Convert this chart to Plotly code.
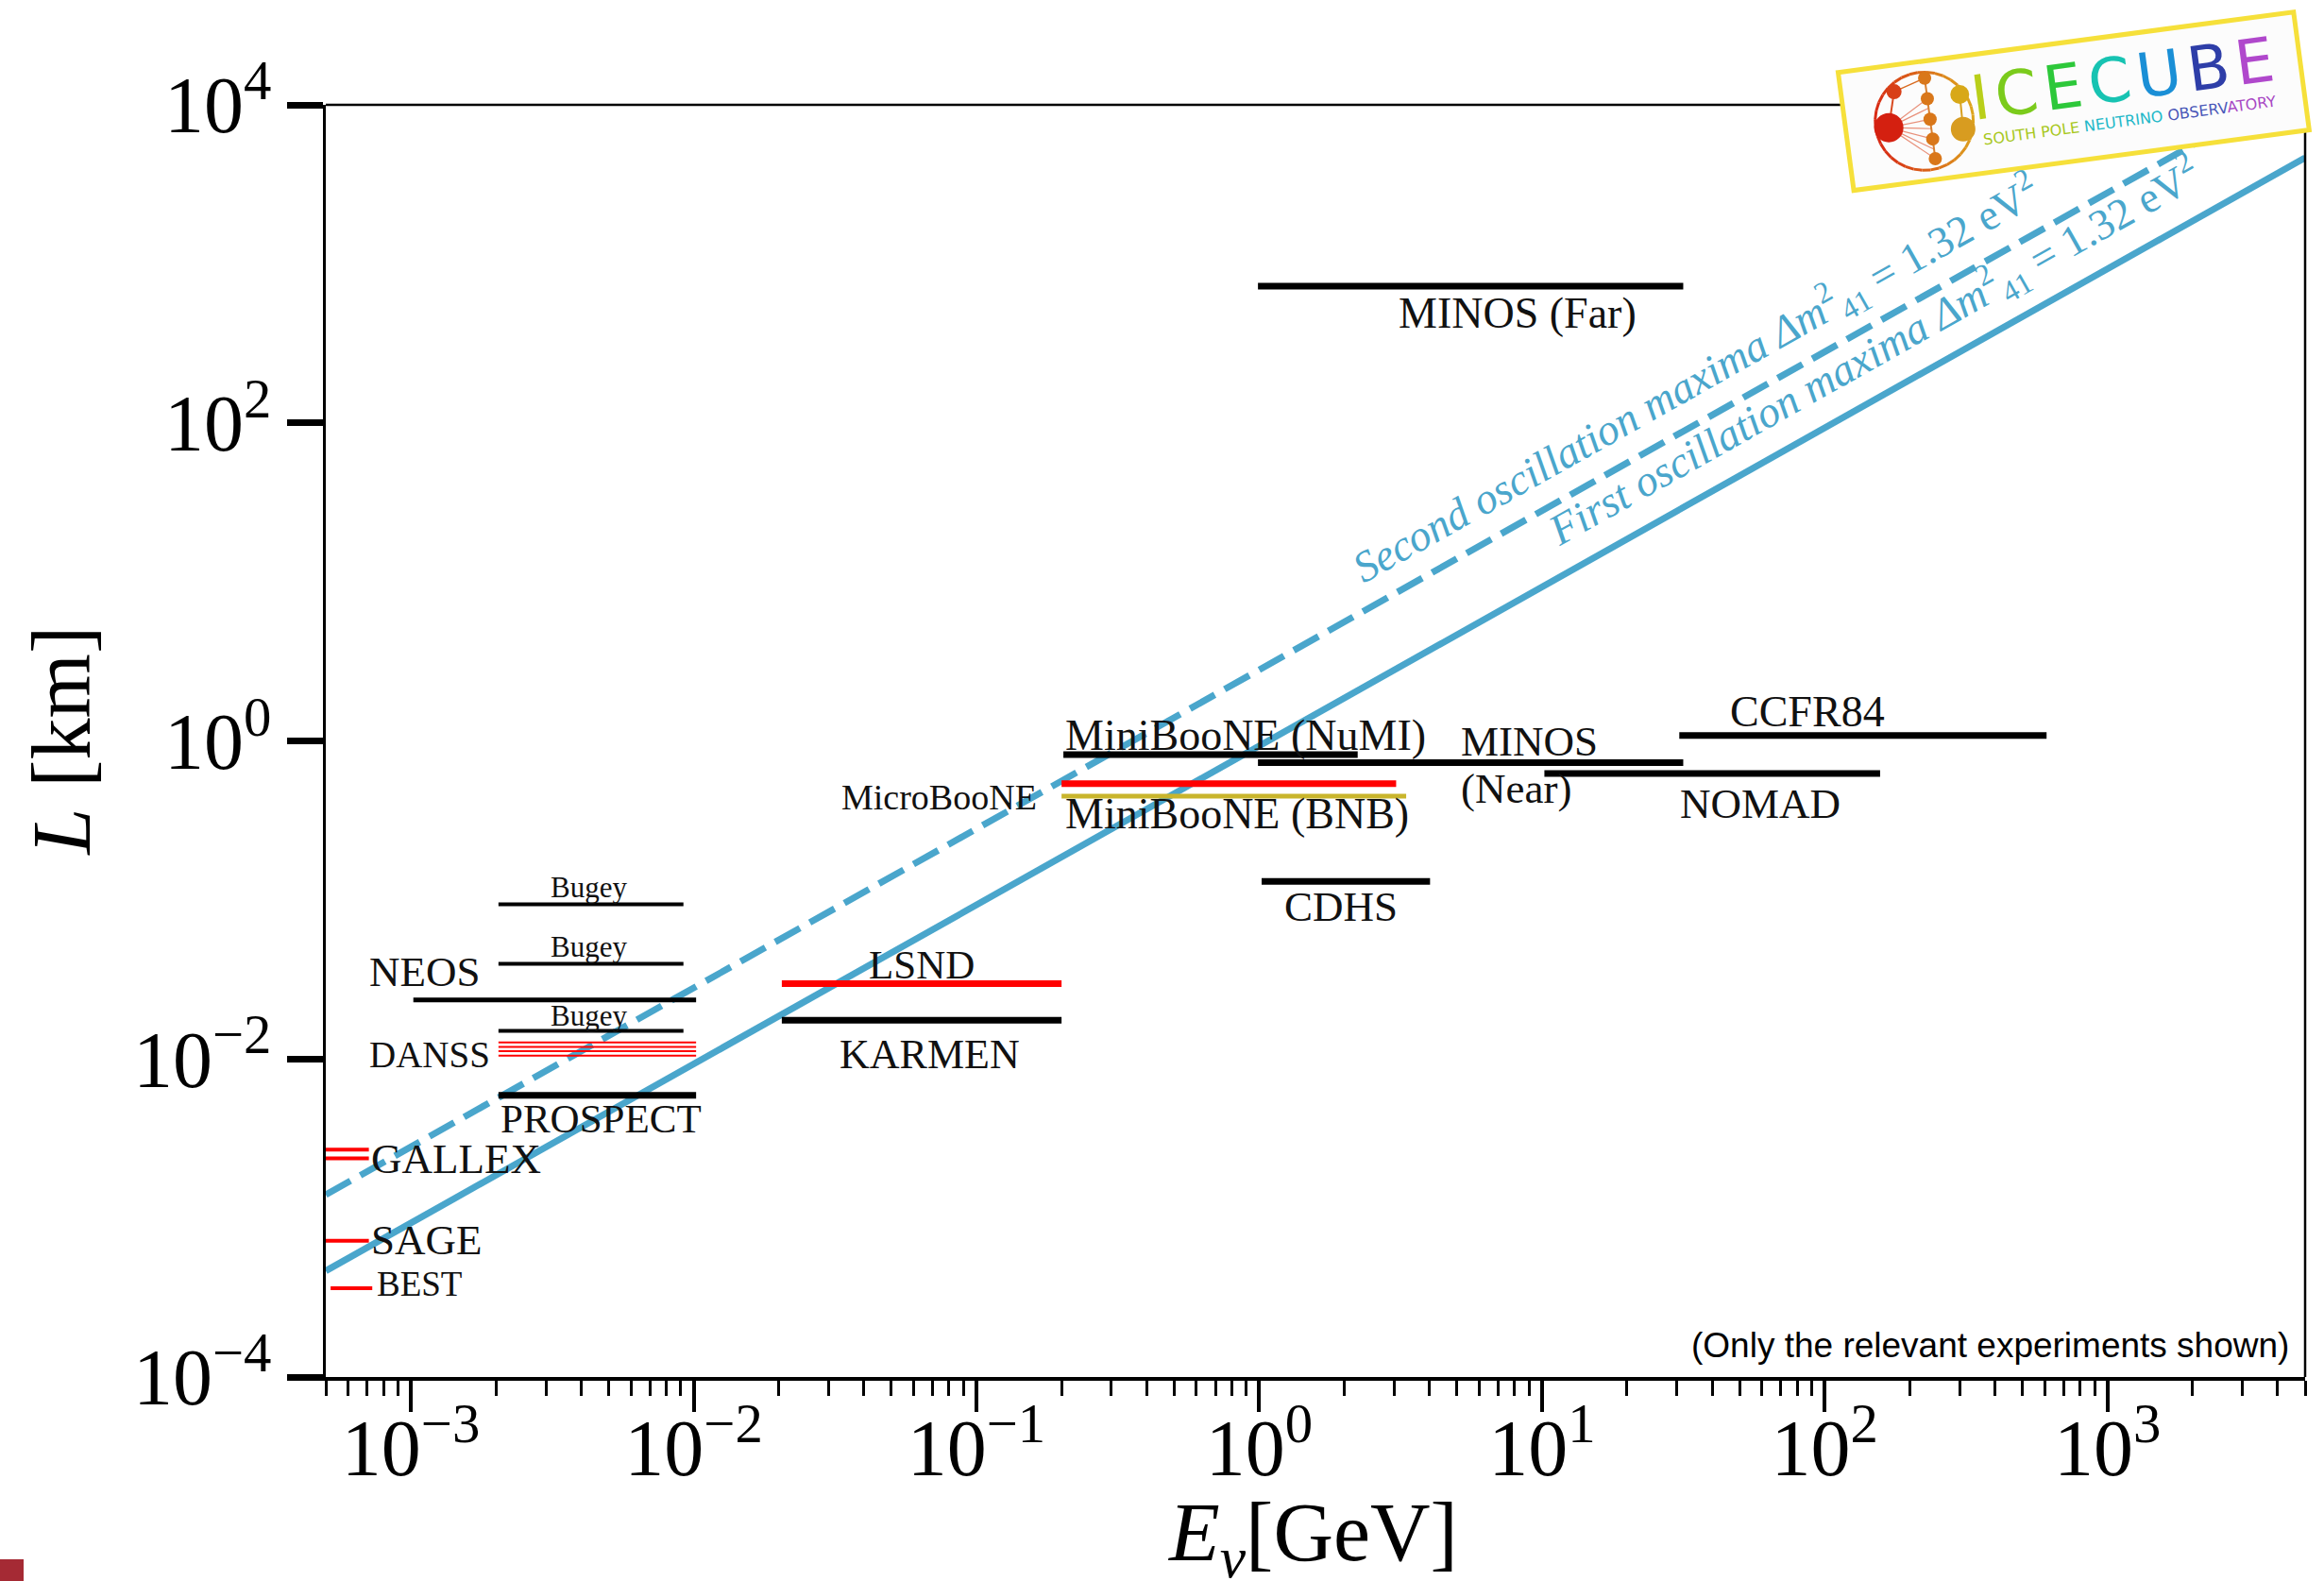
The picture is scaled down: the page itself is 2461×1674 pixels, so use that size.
import math
import plotly.graph_objects as go

# ---------------- data ----------------
exp_names = ["MINOS (Far)", "MiniBooNE (NuMI)", "MINOS (Near)", "NOMAD", "CCFR84",
             "MicroBooNE", "MiniBooNE (BNB)", "CDHS", "LSND", "KARMEN",
             "Bugey (95 m)", "Bugey (40 m)", "NEOS", "Bugey (15 m)",
             "DANSS 1", "DANSS 2", "DANSS 3", "DANSS 4", "PROSPECT",
             "GALLEX 1", "GALLEX 2", "SAGE", "BEST"]
e_min_gev = [0.99, 0.203, 0.99, 10.2, 30.6,
             0.2, 0.2, 1.02, 0.0205, 0.0205,
             2.04e-3, 2.04e-3, 1.02e-3, 2.04e-3,
             2.04e-3, 2.04e-3, 2.04e-3, 2.04e-3, 2.04e-3,
             5e-4, 5e-4, 5e-4, 5.2e-4]
e_max_gev = [31.6, 2.23, 31.6, 157, 609,
             3.05, 3.31, 4.02, 0.2, 0.2,
             9.2e-3, 9.2e-3, 1.02e-2, 9.2e-3,
             1.02e-2, 1.02e-2, 1.02e-2, 1.02e-2, 1.02e-2,
             7.1e-4, 7.1e-4, 7.1e-4, 7.3e-4]
baseline_km = [725, 0.819, 0.731, 0.624, 1.083,
               0.539, 0.449, 0.131, 0.0298, 0.0175,
               0.094, 0.0397, 0.0235, 0.015,
               0.0127, 0.0119, 0.0112, 0.0105, 0.0059,
               0.00269, 0.00237, 0.000718, 0.000362]

osc_energy = [5e-4, 5e3]
first_max_L = [4.65e-4, 4.65e3]
second_max_L = [1.4e-3, 1.4e4]

x_tick_vals = [1e-3, 1e-2, 1e-1, 1e0, 1e1, 1e2, 1e3]
x_tick_text = ["10<sup>−3</sup>", "10<sup>−2</sup>", "10<sup>−1</sup>", "10<sup>0</sup>",
               "10<sup>1</sup>", "10<sup>2</sup>", "10<sup>3</sup>"]
y_tick_vals = [1e-4, 1e-2, 1e0, 1e2, 1e4]
y_tick_text = ["10<sup>−4</sup>", "10<sup>−2</sup>", "10<sup>0</sup>", "10<sup>2</sup>", "10<sup>4</sup>"]

# ---------------- styles ----------------
BLACK, RED, GOLD, BLUE = "black", "#FF0000", "#C9B52C", "#4AA6CC"
style = {
    "MINOS (Far)": (BLACK, 7), "MiniBooNE (NuMI)": (BLACK, 7), "MINOS (Near)": (BLACK, 7),
    "NOMAD": (BLACK, 7), "CCFR84": (BLACK, 7), "MicroBooNE": (RED, 7),
    "MiniBooNE (BNB)": (GOLD, 5), "CDHS": (BLACK, 7), "LSND": (RED, 7), "KARMEN": (BLACK, 7),
    "Bugey (95 m)": (BLACK, 4), "Bugey (40 m)": (BLACK, 4), "NEOS": (BLACK, 5),
    "Bugey (15 m)": (BLACK, 4), "DANSS 1": (RED, 2), "DANSS 2": (RED, 2), "DANSS 3": (RED, 2),
    "DANSS 4": (RED, 2), "PROSPECT": (BLACK, 7), "GALLEX 1": (RED, 4), "GALLEX 2": (RED, 4),
    "SAGE": (RED, 4), "BEST": (RED, 4),
}

fig = go.Figure()

fig.add_trace(go.Scatter(x=osc_energy, y=second_max_L, mode="lines",
                         line=dict(color=BLUE, width=7, dash="30px,12px"), hoverinfo="skip"))
fig.add_trace(go.Scatter(x=osc_energy, y=first_max_L, mode="lines",
                         line=dict(color=BLUE, width=7), hoverinfo="skip"))

for name, e0, e1, L in zip(exp_names, e_min_gev, e_max_gev, baseline_km):
    col, w = style[name]
    fig.add_trace(go.Scatter(x=[e0, e1], y=[L, L], mode="lines", name=name,
                             line=dict(color=col, width=w)))

SERIF = "Liberation Serif"
labels = [
    ("MINOS (Far)", 0.912, 2.692, "center", 46),
    ("MiniBooNE (NuMI)", -0.692, 0.037, "left", 46),
    ("MINOS", 0.708, -0.002, "left", 45),
    ("(Near)", 0.708, -0.298, "left", 45),
    ("MicroBooNE", -0.781, -0.354, "right", 38),
    ("MiniBooNE (BNB)", -0.692, -0.457, "left", 46),
    ("CCFR84", 1.940, 0.186, "center", 46),
    ("NOMAD", 1.772, -0.397, "center", 45),
    ("CDHS", 0.288, -1.041, "center", 45),
    ("LSND", -1.1935, -1.408, "center", 43),
    ("KARMEN", -1.164, -1.972, "center", 44),
    ("Bugey", -2.372, -0.923, "center", 31),
    ("Bugey", -2.372, -1.296, "center", 31),
    ("Bugey", -2.372, -1.731, "center", 31),
    ("NEOS", -2.950, -1.455, "center", 45),
    ("DANSS", -2.934, -1.972, "center", 39),
    ("PROSPECT", -2.328, -2.378, "center", 43),
    ("GALLEX", -3.146, -2.626, "left", 45),
    ("SAGE", -3.146, -3.140, "left", 45),
    ("BEST", -3.127, -3.417, "left", 37),
]
annotations = []
for txt, lx, ly, xa, fs in labels:
    annotations.append(dict(x=lx, y=ly, xref="x", yref="y", text=txt, showarrow=False,
                            xanchor=xa, yanchor="middle",
                            font=dict(family=SERIF, size=fs, color="#111111")))

annotations.append(dict(x=1.545, y=2.275, xref="x", yref="y", showarrow=False,
                        text="<i>Second oscillation maxima Δm</i><sup>2</sup><sub>41</sub> = 1.32 eV<sup>2</sup>",
                        textangle=-29.4, font=dict(family=SERIF, size=46, color=BLUE)))
annotations.append(dict(x=2.175, y=2.444, xref="x", yref="y", showarrow=False,
                        text="<i>First oscillation maxima Δm</i><sup>2</sup><sub>41</sub> = 1.32 eV<sup>2</sup>",
                        textangle=-29.4, font=dict(family=SERIF, size=46, color=BLUE)))

annotations.append(dict(x=0.9928, y=0.0252, xref="paper", yref="paper", showarrow=False,
                        xanchor="right", yanchor="middle",
                        text="(Only the relevant experiments shown)",
                        font=dict(family="Liberation Sans", size=37, color="black")))

# axis titles
annotations.append(dict(x=-0.1335, y=0.5, xref="paper", yref="paper", showarrow=False,
                        text="<i>L</i> [km]", textangle=-90, xanchor="center", yanchor="middle",
                        font=dict(family=SERIF, size=88, color="black")))
annotations.append(dict(x=0.4985, y=-0.1265, xref="paper", yref="paper", showarrow=False,
                        text="<i>E</i><sub><i>ν</i></sub>[GeV]", xanchor="center", yanchor="middle",
                        font=dict(family=SERIF, size=88, color="black")))

# ---------------- decoration (logo etc.) in pixel space ----------------
PL, PT, PW, PH = 345, 111, 2096, 1347


def P(x, y):
    return (x - PL) / PW, (PT + PH - y) / PH


ang = math.radians(7.56)
UX, UY = math.cos(ang), -math.sin(ang)
VX, VY = math.sin(ang), math.cos(ang)
OX, OY = 1946.5, 76.7


def L2P(u, v):
    return OX + u * UX + v * VX, OY + u * UY + v * VY


def path_from(pts, close=True):
    s = ""
    for i, (x, y) in enumerate(pts):
        px, py = P(x, y)
        s += ("M" if i == 0 else "L") + f"{px:.5f},{py:.5f} "
    return s + ("Z" if close else "")


shapes = []
# top / right frame
shapes.append(dict(type="line", xref="paper", yref="paper", x0=0, x1=1, y0=1, y1=1,
                   line=dict(color="black", width=2.5), layer="above"))
shapes.append(dict(type="line", xref="paper", yref="paper", x0=1, x1=1, y0=0, y1=1,
                   line=dict(color="black", width=2.5), layer="above"))

W, H = 486.5, 126
box = [L2P(0, 0), L2P(W, 0), L2P(W, H), L2P(0, H)]
shapes.append(dict(type="path", xref="paper", yref="paper", path=path_from(box),
                   fillcolor="#FCFCFC", line=dict(color="#F6E03A", width=5), layer="above"))


def circle(u, v, r, fill, line=None, lw=0):
    cx, cy = L2P(u, v)
    x0, y0 = P(cx - r, cy + r)
    x1, y1 = P(cx + r, cy - r)
    return dict(type="circle", xref="paper", yref="paper", x0=x0, x1=x1, y0=y0, y1=y1,
                fillcolor=fill, line=dict(color=line or fill, width=lw), layer="above")


def seg(u0, v0, u1, v1, col, w):
    return dict(type="path", xref="paper", yref="paper",
                path=path_from([L2P(u0, v0), L2P(u1, v1)], close=False),
                line=dict(color=col, width=w), layer="above")


cu, cv, cr = 83.6, 63.2, 52
nseg = 36
for i in range(nseg):
    a0 = 2 * math.pi * i / nseg
    a1 = 2 * math.pi * (i + 1) / nseg
    t = (math.cos((a0 + a1) / 2) + 1) / 2  # 0 left, 1 right
    r_ = int(216 + (222 - 216) * t)
    g_ = int(40 + (165 - 40) * t)
    b_ = int(20 + (30 - 20) * t)
    pts = [L2P(cu + cr * math.cos(a0), cv + cr * math.sin(a0)),
           L2P(cu + cr * math.cos(a1), cv + cr * math.sin(a1))]
    shapes.append(dict(type="path", xref="paper", yref="paper", path=path_from(pts, close=False),
                       line=dict(color=f"rgb({r_},{g_},{b_})", width=3), layer="above"))

string_v = [18, 40, 62, 83, 104]
for v in [40, 50, 62, 72, 83, 94, 104]:
    shapes.append(seg(45.5, 65, 90, v, "#E8907A", 1.2))
shapes.append(seg(90, 14, 90, 110, "#D98030", 2))
shapes.append(seg(45.5, 65, 56, 28, "#D84A20", 2))
shapes.append(seg(56, 28, 90, 18, "#D86A20", 1.5))
shapes.append(seg(124.6, 40, 123.3, 77, "#D8A020", 2))
shapes.append(circle(45.5, 65, 15.5, "#D42010"))
shapes.append(circle(56, 28, 8, "#D84018"))
for v in string_v:
    shapes.append(circle(90, v, 7, "#D9771A"))
shapes.append(circle(124.6, 40, 10, "#D8A818"))
shapes.append(circle(123.3, 77, 13, "#D89C20"))

ice_x, ice_y = L2P(298, 46)
ix, iy = P(ice_x, ice_y)
letters = [("I", "#B9CF1A"), ("C", "#7BCB1C"), ("E", "#2DC83A"), ("C", "#17C3B2"),
           ("U", "#1A8FD6"), ("B", "#2E3EA8"), ("E", "#B048CC")]
ice_text = "\u200a".join(f'<span style="color:{c}">{ch}</span>' for ch, c in letters)
annotations.append(dict(x=ix, y=iy, xref="paper", yref="paper", showarrow=False, text=ice_text,
                        textangle=-7.56, xanchor="center", yanchor="middle",
                        font=dict(family="DejaVu Sans", size=65)))
sp_x, sp_y = L2P(300, 91)
sx, sy = P(sp_x, sp_y)
sub_text = ('<span style="color:#A8C81E">SOUTH POLE </span>'
            '<span style="color:#22B8C8">NEUTRINO </span>'
            '<span style="color:#4A58B8">OBSERV</span><span style="color:#A848C4">ATORY</span>')
annotations.append(dict(x=sx, y=sy, xref="paper", yref="paper", showarrow=False, text=sub_text,
                        textangle=-7.56, xanchor="center", yanchor="middle",
                        font=dict(family="DejaVu Sans", size=16)))

# tiny corner icon
ix0, iy0 = P(0, 1674)
ix1, iy1 = P(25, 1651)
shapes.append(dict(type="rect", xref="paper", yref="paper", x0=ix0, x1=ix1, y0=iy0, y1=iy1,
                   fillcolor="#A52A34", line=dict(width=0), layer="above"))

minor_vals = [m * 10.0 ** k for k in range(-4, 4) for m in range(2, 10)
              if 5e-4 <= m * 10.0 ** k <= 5e3]

fig.update_layout(
    width=2461, height=1674,
    margin=dict(l=PL, r=2461 - PL - PW, t=PT, b=1674 - PT - PH),
    paper_bgcolor="white", plot_bgcolor="white",
    showlegend=False,
    annotations=annotations,
    shapes=shapes,
    xaxis=dict(type="log", range=[math.log10(5e-4), math.log10(5e3)],
               showgrid=False, zeroline=False, showline=True, linecolor="black", linewidth=4,
               ticks="outside", ticklen=33, tickwidth=3.5, tickcolor="black",
               tickmode="array", tickvals=x_tick_vals, ticktext=x_tick_text,
               ticklabelstandoff=-34,
               tickfont=dict(family=SERIF, size=84, color="black"),
               minor=dict(ticks="outside", ticklen=16, tickwidth=3, tickcolor="black",
                          tickmode="array", tickvals=minor_vals, showgrid=False)),
    yaxis=dict(type="log", range=[-4, 4],
               showgrid=False, zeroline=False, showline=True, linecolor="black", linewidth=2.5,
               ticks="outside", ticklen=38, tickwidth=7, tickcolor="black",
               tickmode="array", tickvals=y_tick_vals, ticktext=y_tick_text,
               tickfont=dict(family=SERIF, size=84, color="black")),
)

fig.write_html("out.html")
